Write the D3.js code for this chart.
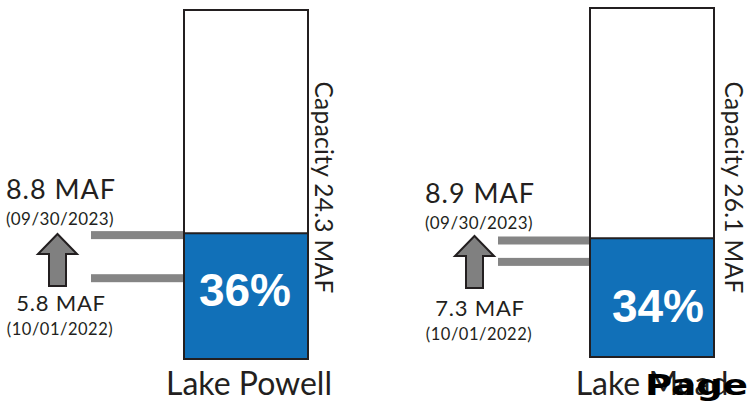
<!DOCTYPE html>
<html>
<head>
<meta charset="utf-8">
<script src="https://cdn.jsdelivr.net/npm/d3@7"></script>
<style>
  html, body { margin: 0; padding: 0; background: #fff; }
  svg { display: block; }
  text { font-family: Lato, "Open Sans", sans-serif; fill: #231f20; }
</style>
</head>
<body>
<svg id="chart" width="752" height="402"></svg>
<script>
// Reservoir storage, in million acre-feet (MAF)
const lakes = ["Lake Powell", "Lake Mead"];
const capacityMAF = [24.3, 26.1];
const percentFull = [36, 34];
const storageLatest = [8.8, 8.9];
const storagePrior = [5.8, 7.3];
const dateLatest = "09/30/2023";
const datePrior = "10/01/2022";

// Layout per lake (left panel, right panel)
const layout = [
  { boxX: 184, boxW: 124, top: 10, bottom: 359, barX: 91, arrowX: 57.5, arrowTip: 234,
    labelX: 61, hiY: 199, hiDateY: 225, loY: 311, loDateY: 335,
    pctX: 245, pctY: 306, capX: 315, nameX: 249 },
  { boxX: 590, boxW: 124, top: 8, bottom: 357, barX: 498, arrowX: 474.5, arrowTip: 236,
    labelX: 480, hiY: 203, hiDateY: 229, loY: 316, loDateY: 340,
    pctX: 658, pctY: 322, capX: 725, nameX: 652 }
];

const svg = d3.select("#chart");
const BLUE = "#1170b8", GREY = "#858585", INK = "#231f20";

lakes.forEach((name, i) => {
  const L = layout[i];
  const y = d3.scaleLinear().domain([0, capacityMAF[i]]).range([L.bottom, L.top]);
  const g = svg.append("g");

  // grey level markers for the two storage dates
  [storagePrior[i], storageLatest[i]].forEach(v => {
    g.append("rect")
      .attr("x", L.barX).attr("width", L.boxX - L.barX)
      .attr("y", y(v) - 1.5).attr("height", 8)
      .attr("fill", GREY);
  });

  // filled portion of capacity
  const fillTop = y(capacityMAF[i] * percentFull[i] / 100);
  g.append("rect")
    .attr("x", L.boxX).attr("width", L.boxW)
    .attr("y", fillTop).attr("height", L.bottom - fillTop)
    .attr("fill", BLUE);
  g.append("line")
    .attr("x1", L.boxX).attr("x2", L.boxX + L.boxW)
    .attr("y1", fillTop).attr("y2", fillTop)
    .attr("stroke", INK).attr("stroke-width", 2);

  // capacity outline
  g.append("rect")
    .attr("x", L.boxX).attr("width", L.boxW)
    .attr("y", y(capacityMAF[i])).attr("height", L.bottom - y(capacityMAF[i]))
    .attr("fill", "none").attr("stroke", INK).attr("stroke-width", 2);

  // percent full label
  g.append("text")
    .attr("x", L.pctX).attr("y", L.pctY)
    .attr("text-anchor", "middle")
    .style("font-family", "'Liberation Sans', Arial, sans-serif")
    .style("font-weight", "bold").style("font-size", "46px")
    .style("fill", "#fff")
    .text(percentFull[i] + "%");

  // capacity label, rotated
  g.append("text")
    .attr("transform", `translate(${L.capX},187.5) rotate(90)`)
    .attr("text-anchor", "middle")
    .style("font-size", "24.5px")
    .style("letter-spacing", "0.3px")
    .text(`Capacity ${capacityMAF[i]} MAF`);

  // up arrow between the two dates
  const ax = L.arrowX, t = L.arrowTip;
  const arrow = [[ax, t], [ax + 19.5, t + 20], [ax + 8.5, t + 20], [ax + 8.5, t + 52],
                 [ax - 8.5, t + 52], [ax - 8.5, t + 20], [ax - 19.5, t + 20]];
  g.append("path")
    .attr("d", d3.line()(arrow) + "Z")
    .attr("fill", "#808080").attr("stroke", INK).attr("stroke-width", 2)
    .attr("stroke-linejoin", "miter");

  // storage labels
  g.append("text").attr("x", L.labelX).attr("y", L.hiY).attr("text-anchor", "middle")
    .style("font-size", "27px").style("letter-spacing", "1px")
    .text(`${storageLatest[i].toFixed(1)} MAF`);
  g.append("text").attr("x", L.labelX - 1).attr("y", L.hiDateY).attr("text-anchor", "middle")
    .style("font-size", "17px").style("letter-spacing", "0.4px")
    .text(`(${dateLatest})`);
  g.append("text").attr("x", L.labelX).attr("y", L.loY).attr("text-anchor", "middle")
    .style("font-size", "22px").style("letter-spacing", "0.8px")
    .text(`${storagePrior[i].toFixed(1)} MAF`);
  g.append("text").attr("x", L.labelX - 1).attr("y", L.loDateY).attr("text-anchor", "middle")
    .style("font-size", "16.5px").style("letter-spacing", "0.5px")
    .text(`(${datePrior})`);

  // lake name
  g.append("text").attr("x", L.nameX).attr("y", 395).attr("text-anchor", "middle")
    .style("font-size", "32px").text(name);
});

// page marker in the lower right corner
svg.append("text")
  .attr("x", 645).attr("y", 395)
  .attr("textLength", 103).attr("lengthAdjust", "spacingAndGlyphs")
  .style("font-family", "'DejaVu Sans', sans-serif")
  .style("font-weight", "bold").style("font-size", "29px")
  .style("fill", "#000")
  .text("Page");
</script>
</body>
</html>
